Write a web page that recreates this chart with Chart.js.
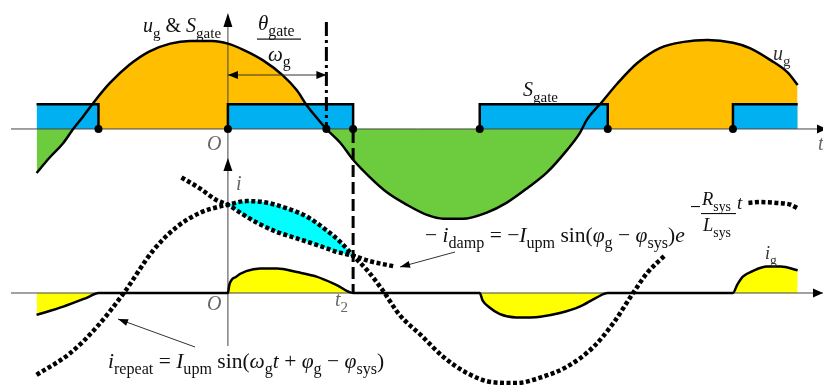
<!DOCTYPE html>
<html>
<head>
<meta charset="utf-8">
<script src="https://cdn.jsdelivr.net/npm/chart.js@4.4.1/dist/chart.umd.min.js"></script>
<style>
  html, body { margin: 0; padding: 0; background: #fff; }
  canvas { display: block; }
</style>
</head>
<body>
<canvas id="gate-chart" width="823" height="385"></canvas>
<script>
// x: omega_g * t in degrees, O = 0
var ugT = [-136, -127, -117, -110, -103, -95, -84, -70, -56, -41, -27, -11, 0, 11, 25, 39, 49, 56, 63, 70, 80, 89, 101, 113, 127, 142, 153, 167, 184, 198, 213, 227, 241, 250, 255, 266, 277, 291, 307, 324, 341, 359, 371, 386, 398, 405];
var ugV = [-0.50, -0.33, -0.16, 0, 0.14, 0.31, 0.52, 0.73, 0.88, 0.97, 1.00, 1.00, 0.97, 0.90, 0.78, 0.61, 0.44, 0.27, 0.13, 0, -0.16, -0.35, -0.55, -0.72, -0.86, -0.98, -1.02, -1.02, -0.95, -0.84, -0.67, -0.49, -0.24, -0.05, 0.10, 0.31, 0.52, 0.75, 0.92, 0.99, 1.01, 0.98, 0.92, 0.78, 0.64, 0.50];

// S_gate on / off instants
var gateOn = [-136, 0, 179, 359];
var gateOff = [-92, 89, 270, 405];
var gateLevel = 0.28;

var T_GATE = 70; // theta_gate / omega_g
var T2 = 89;

// i_g
var igT = [-136, -117, -100, -92, 0, 1, 6, 13, 23, 35, 49, 63, 77, 89, 179, 181, 186, 193, 205, 222, 236, 250, 262, 270, 359, 362, 366, 373, 383, 393, 405];
var igV = [-0.24, -0.15, -0.05, 0, 0, 0.09, 0.18, 0.24, 0.27, 0.27, 0.23, 0.18, 0.09, 0, 0, -0.08, -0.16, -0.23, -0.27, -0.26, -0.22, -0.15, -0.05, 0, 0, 0.09, 0.18, 0.24, 0.29, 0.29, 0.25];

// i_repeat (gap where the formula sits)
var repT = [-136, -112, -93, -74, -53, -36, -20, -6, 0, 13, 25, 42, 56, 70, 80, 89, 99, 110, 122, 137, 153, 170, 188, 205, 222, 241, 260, 274, 288, 298, 311, 340, 370, 378, 390, 400, 405];
var repV = [-0.90, -0.66, -0.37, 0, 0.47, 0.73, 0.88, 0.95, 0.97, 1.01, 1.00, 0.93, 0.84, 0.69, 0.56, 0.41, 0.25, 0.03, -0.24, -0.46, -0.70, -0.88, -0.98, -0.99, -0.93, -0.81, -0.59, -0.33, 0, 0.22, 0.42, null, 0.99, 1.00, 0.99, 0.97, 0.93];

// -i_damp
var dampT = [-33, -20, -8, 0, 9, 21, 35, 49, 63, 78, 89, 101, 119];
var dampV = [1.27, 1.15, 1.02, 0.97, 0.88, 0.77, 0.67, 0.60, 0.53, 0.45, 0.41, 0.35, 0.29];

var ORANGE = '#FFBF00', GREEN = '#6DCC3E', BLUE = '#00B0F0', CYAN = '#00FFFF', YELLOW = '#FFFF00';
var SERIF = '"Liberation Serif", "DejaVu Serif", serif';
var CLEAR = 'rgba(0,0,0,0)';

function pts(xs, ys) {
  return xs.map(function (x, k) { return { x: x, y: ys[k] }; });
}

var gatePts = [];
gateOn.forEach(function (on, k) {
  var off = gateOff[k];
  if (on > ugT[0]) gatePts.push({ x: on, y: 0 });
  gatePts.push({ x: on, y: gateLevel }, { x: off, y: gateLevel });
  if (off < ugT[ugT.length - 1]) gatePts.push({ x: off, y: 0 });
});

var edgePts = [];
gateOn.concat(gateOff, [T_GATE]).forEach(function (x) {
  if (x > ugT[0] && x < ugT[ugT.length - 1]) edgePts.push({ x: x, y: 0 });
});

var repPts = pts(repT, repV);
var dampPts = pts(dampT, dampV);
function between(p) { return p.y !== null && p.x >= 0 && p.x <= T2; }

// text with sub-scripts: [text, 'i' italic | 'r' roman | 's' subscript]
function runs(ctx, x, y, parts, size, color) {
  ctx.fillStyle = color || '#111';
  ctx.textBaseline = 'alphabetic';
  ctx.textAlign = 'left';
  parts.forEach(function (p) {
    var sub = p[1] === 's';
    var s = sub ? size * 0.75 : size;
    ctx.font = (p[1] === 'i' ? 'italic ' : '') + s + 'px ' + SERIF;
    ctx.fillText(p[0], x, y + (sub ? size * 0.3 : 0));
    x += ctx.measureText(p[0]).width;
  });
  return x;
}

function arrowHead(ctx, x0, y0, x1, y1, len, half) {
  var a = Math.atan2(y1 - y0, x1 - x0);
  ctx.beginPath();
  ctx.moveTo(x1, y1);
  ctx.lineTo(x1 - len * Math.cos(a) + half * Math.sin(a), y1 - len * Math.sin(a) - half * Math.cos(a));
  ctx.lineTo(x1 - len * Math.cos(a) - half * Math.sin(a), y1 - len * Math.sin(a) + half * Math.cos(a));
  ctx.closePath();
  ctx.fill();
}

function arrow(ctx, x0, y0, x1, y1, len, half) {
  ctx.beginPath();
  ctx.moveTo(x0, y0);
  ctx.lineTo(x1, y1);
  ctx.stroke();
  arrowHead(ctx, x0, y0, x1, y1, len, half);
}

var diagram = {
  id: 'diagram',
  beforeDatasetsDraw: function (chart) {
    var ctx = chart.ctx, sx = chart.scales.x;
    var yu = chart.scales.yU.getPixelForValue(0);
    var yi = chart.scales.yI.getPixelForValue(0);
    var x0 = sx.getPixelForValue(0);
    ctx.save();
    ctx.strokeStyle = '#444';
    ctx.fillStyle = '#000';
    ctx.lineWidth = 1;
    arrow(ctx, 11, yu, 827, yu, 10, 4.5);
    arrow(ctx, 11, yi, 823, yi, 10, 4.5);
    ctx.beginPath();
    ctx.moveTo(x0, 346);
    ctx.lineTo(x0, 20);
    ctx.stroke();
    arrowHead(ctx, x0, 40, x0, 13, 14, 4.5);
    arrowHead(ctx, x0, 200, x0, 158, 13, 4.5);
    ctx.restore();
  },
  afterDatasetsDraw: function (chart) {
    var ctx = chart.ctx, sx = chart.scales.x;
    var yu = chart.scales.yU.getPixelForValue(0);
    var yi = chart.scales.yI.getPixelForValue(0);
    var x0 = sx.getPixelForValue(0);
    var xg = sx.getPixelForValue(T_GATE);
    var x2 = sx.getPixelForValue(T2);
    ctx.save();
    ctx.strokeStyle = '#000';
    ctx.lineWidth = 3;
    ctx.setLineDash([14, 4, 3, 4]);
    ctx.beginPath();
    ctx.moveTo(xg, 22);
    ctx.lineTo(xg, yu);
    ctx.stroke();
    ctx.setLineDash([12, 5]);
    ctx.beginPath();
    ctx.moveTo(x2, yu + 2);
    ctx.lineTo(x2, yi);
    ctx.stroke();
    ctx.setLineDash([]);

    // theta_gate / omega_g span
    ctx.strokeStyle = '#333';
    ctx.fillStyle = '#000';
    ctx.lineWidth = 1;
    ctx.beginPath();
    ctx.moveTo(x0, 75);
    ctx.lineTo(xg, 75);
    ctx.stroke();
    arrowHead(ctx, xg, 75, x0, 75, 10, 4);
    arrowHead(ctx, x0, 75, xg, 75, 10, 4);

    // pointer arrows
    arrow(ctx, 455, 252, 400, 267, 10, 3.5);
    arrow(ctx, 195, 347, 118, 319, 10, 3.5);
    ctx.restore();
  },
  afterDraw: function (chart) {
    var ctx = chart.ctx;
    ctx.save();
    runs(ctx, 143, 32, [['u', 'i'], ['g', 's'], [' & ', 'r'], ['S', 'i'], ['gate', 's']], 20);
    runs(ctx, 258, 30, [['θ', 'i'], ['gate', 's']], 21);
    ctx.fillStyle = '#111';
    ctx.fillRect(257, 38.5, 44, 1.2);
    runs(ctx, 268, 61, [['ω', 'i'], ['g', 's']], 21);
    runs(ctx, 773, 60, [['u', 'i'], ['g', 's']], 20, '#333');
    runs(ctx, 523, 96, [['S', 'i'], ['gate', 's']], 20);
    runs(ctx, 207, 150, [['O', 'i']], 20, '#666');
    runs(ctx, 207, 310, [['O', 'i']], 20, '#666');
    runs(ctx, 236, 190, [['i', 'i']], 20, '#666');
    runs(ctx, 335, 306, [['t', 'i'], ['2', 's']], 20, '#666');
    runs(ctx, 818, 150, [['t', 'i']], 20, '#666');
    runs(ctx, 765, 259, [['i', 'i'], ['g', 's']], 18, '#333');

    runs(ctx, 108, 368, [['i', 'i'], ['repeat', 's'], [' = ', 'r'], ['I', 'i'], ['upm', 's'], [' sin(', 'r'],
      ['ω', 'i'], ['g', 's'], ['t', 'i'], [' + ', 'r'], ['φ', 'i'], ['g', 's'], [' − ', 'r'], ['φ', 'i'], ['sys', 's'], [')', 'r']], 21.5);
    runs(ctx, 425, 242, [['− ', 'r'], ['i', 'i'], ['damp', 's'], [' = −', 'r'], ['I', 'i'], ['upm', 's'], [' sin(', 'r'],
      ['φ', 'i'], ['g', 's'], [' − ', 'r'], ['φ', 'i'], ['sys', 's'], [')', 'r'], ['e', 'i']], 21.5);
    // exponent -R_sys/L_sys t
    ctx.fillStyle = '#111';
    ctx.fillRect(691, 206, 9, 1.1);
    runs(ctx, 702, 205, [['R', 'i'], ['sys', 's']], 18.5);
    ctx.fillRect(701, 213, 35, 1.1);
    runs(ctx, 703, 231, [['L', 'i'], ['sys', 's']], 18.5);
    runs(ctx, 737, 209, [['t', 'i']], 19);
    ctx.restore();
  }
};

new Chart(document.getElementById('gate-chart').getContext('2d'), {
  type: 'line',
  data: {
    datasets: [
      {
        label: 'edges', data: edgePts, yAxisID: 'yU', showLine: false,
        pointRadius: 4, pointBackgroundColor: '#000', pointBorderWidth: 0
      },
      {
        label: 'S_gate', data: gatePts, yAxisID: 'yU', tension: 0,
        borderColor: '#000', borderWidth: 2.5,
        segment: {
          borderColor: function (c) { return (c.p0.parsed.y === 0 && c.p1.parsed.y === 0) ? CLEAR : '#000'; }
        },
        fill: 'origin', backgroundColor: BLUE
      },
      {
        label: 'u_g', data: pts(ugT, ugV), yAxisID: 'yU', cubicInterpolationMode: 'monotone',
        borderColor: '#000', borderWidth: 2.5,
        fill: { target: 'origin', above: ORANGE, below: GREEN }
      },
      {
        label: 'i_g', data: pts(igT, igV), yAxisID: 'yI', cubicInterpolationMode: 'monotone',
        borderColor: '#000', borderWidth: 2.5,
        fill: { target: 'origin', above: YELLOW, below: YELLOW }
      },
      {
        label: 'i_repeat', data: repPts, yAxisID: 'yI', cubicInterpolationMode: 'monotone',
        borderColor: '#000', borderWidth: 4.5, borderDash: [4, 2.5], fill: false
      },
      {
        label: '-i_damp', data: dampPts, yAxisID: 'yI', cubicInterpolationMode: 'monotone',
        borderColor: '#000', borderWidth: 4.5, borderDash: [4, 2.5], fill: false
      },
      {
        label: 'band top', data: repPts.filter(between), yAxisID: 'yI', cubicInterpolationMode: 'monotone',
        borderColor: CLEAR, borderWidth: 0,
        fill: { target: 7, above: CYAN, below: CYAN }
      },
      {
        label: 'band bottom', data: dampPts.filter(between), yAxisID: 'yI', cubicInterpolationMode: 'monotone',
        borderColor: CLEAR, borderWidth: 0, fill: false
      }
    ]
  },
  options: {
    responsive: false,
    animation: false,
    layout: { padding: 0, autoPadding: false },
    elements: { point: { radius: 0 } },
    plugins: {
      legend: { display: false },
      tooltip: { enabled: false },
      filler: { drawTime: 'beforeDatasetsDraw', propagate: false }
    },
    scales: {
      x: { type: 'linear', min: -162, max: 423, display: false },
      yU: { type: 'linear', min: -2.91, max: 1.466, display: false },
      yI: { type: 'linear', min: -1.011, max: 3.22, display: false }
    }
  },
  plugins: [diagram]
});
</script>
</body>
</html>
